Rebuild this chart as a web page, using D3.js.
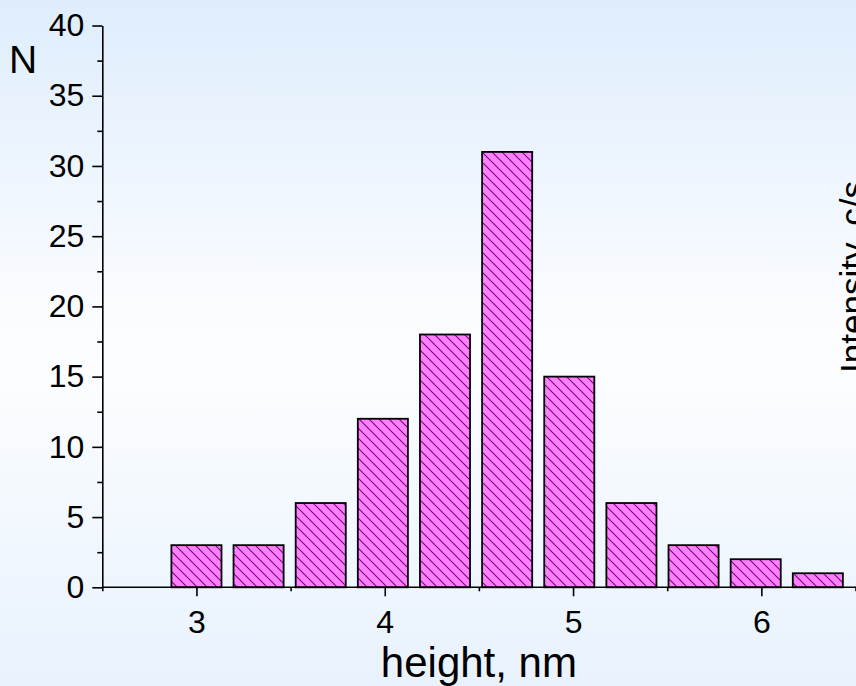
<!DOCTYPE html>
<html>
<head>
<meta charset="utf-8">
<script src="https://cdn.jsdelivr.net/npm/d3@7"></script>
<style>
  html, body { margin: 0; padding: 0; background: #fff; }
  svg { display: block; }
  text { font-family: "Liberation Sans", Arial, sans-serif; fill: #000; }
</style>
</head>
<body>
<svg id="chart" width="856" height="686"></svg>
<script>
// Histogram of particle heights
const binCenters = [3.00, 3.33, 3.66, 3.99, 4.32, 4.65, 4.98, 5.31, 5.64, 5.97, 6.30];
const counts     = [3, 3, 6, 12, 18, 31, 15, 6, 3, 2, 1];
const binWidth   = 0.266;

const yMajorTicks = [0, 5, 10, 15, 20, 25, 30, 35, 40];
const yMinorTicks = [2.5, 7.5, 12.5, 17.5, 22.5, 27.5, 32.5, 37.5];
const xMajorTicks = [3, 4, 5, 6];
const xMinorTicks = [2.5, 3.5, 4.5, 5.5, 6.5];

const xTitle = "height, nm";
const yTitle = "N";
const y2Title = "Intensity, c/s";

const W = 856, H = 686;
const svg = d3.select("#chart");
const defs = svg.append("defs");

// soft blue backdrop
const bg = defs.append("linearGradient")
  .attr("id", "bgGrad").attr("x1", 0).attr("y1", 0).attr("x2", 0).attr("y2", 1);
bg.append("stop").attr("offset", "0%").attr("stop-color", "#deedfc");
bg.append("stop").attr("offset", "45%").attr("stop-color", "#fafcff");
bg.append("stop").attr("offset", "55%").attr("stop-color", "#fbfdff");
bg.append("stop").attr("offset", "100%").attr("stop-color", "#e8f2fd");
svg.append("rect").attr("width", W).attr("height", H).attr("fill", "url(#bgGrad)");

// diagonal hatch for the bars
const hp = 10;
const hatch = defs.append("pattern")
  .attr("id", "hatch").attr("patternUnits", "userSpaceOnUse")
  .attr("width", hp).attr("height", hp);
hatch.append("rect").attr("width", hp).attr("height", hp).attr("fill", "#ff80ff");
hatch.append("path")
  .attr("d", `M-3,${hp - 3} L3,${hp + 3} M0,0 L${hp},${hp} M${hp - 3},-3 L${hp + 3},3`)
  .attr("stroke", "#800080").attr("stroke-width", 1.1);

const x = d3.scaleLinear().domain([2.5, 6.5]).range([102.3, 855.5]);
const y = d3.scaleLinear().domain([0, 40]).range([587.3, 25.5]);

// bars
svg.append("g").selectAll("rect")
  .data(binCenters.map((c, i) => ({ c, n: counts[i] })))
  .join("rect")
  .attr("x", d => x(d.c - binWidth / 2))
  .attr("width", d => x(d.c + binWidth / 2) - x(d.c - binWidth / 2))
  .attr("y", d => y(d.n))
  .attr("height", d => y(0) - y(d.n))
  .attr("fill", "url(#hatch)")
  .attr("stroke", "#000")
  .attr("stroke-width", 1.8);

// y axis
const yAxis = svg.append("g").attr("transform", `translate(${x(2.5)},0)`)
  .call(d3.axisLeft(y).tickValues(yMajorTicks).tickSize(10).tickSizeOuter(0)
    .tickPadding(8).tickFormat(d3.format("d")));
svg.append("g").attr("transform", `translate(${x(2.5)},0)`)
  .call(d3.axisLeft(y).tickValues(yMinorTicks).tickSize(5).tickSizeOuter(0).tickFormat(""))
  .select(".domain").remove();

// x axis
const xAxis = svg.append("g").attr("transform", `translate(0,${y(0)})`)
  .call(d3.axisBottom(x).tickValues(xMajorTicks).tickSize(9).tickSizeOuter(0)
    .tickPadding(14).tickFormat(d3.format("d")));
svg.append("g").attr("transform", `translate(0,${y(0)})`)
  .call(d3.axisBottom(x).tickValues(xMinorTicks).tickSize(4).tickSizeOuter(0).tickFormat(""))
  .select(".domain").remove();
xAxis.select(".domain").attr("d", `M${x(2.5)},0H${W + 5}`);

svg.selectAll(".domain, .tick line").attr("stroke", "#000").attr("stroke-width", 1.6);
yAxis.selectAll(".tick text").attr("font-size", 32).attr("font-family", null);
xAxis.selectAll(".tick text").attr("font-size", 32).attr("font-family", null);

// titles
svg.append("text").attr("x", 9).attr("y", 73).attr("font-size", 39).text(yTitle);
svg.append("text").attr("x", (x(2.5) + x(6.5)) / 2).attr("y", 677)
  .attr("text-anchor", "middle").attr("font-size", 42).text(xTitle);
// right-hand axis title, running off the right edge of the canvas
svg.append("text")
  .attr("transform", "translate(865,277) rotate(-90)")
  .attr("text-anchor", "middle").attr("font-size", 35).text(y2Title);
</script>
</body>
</html>
